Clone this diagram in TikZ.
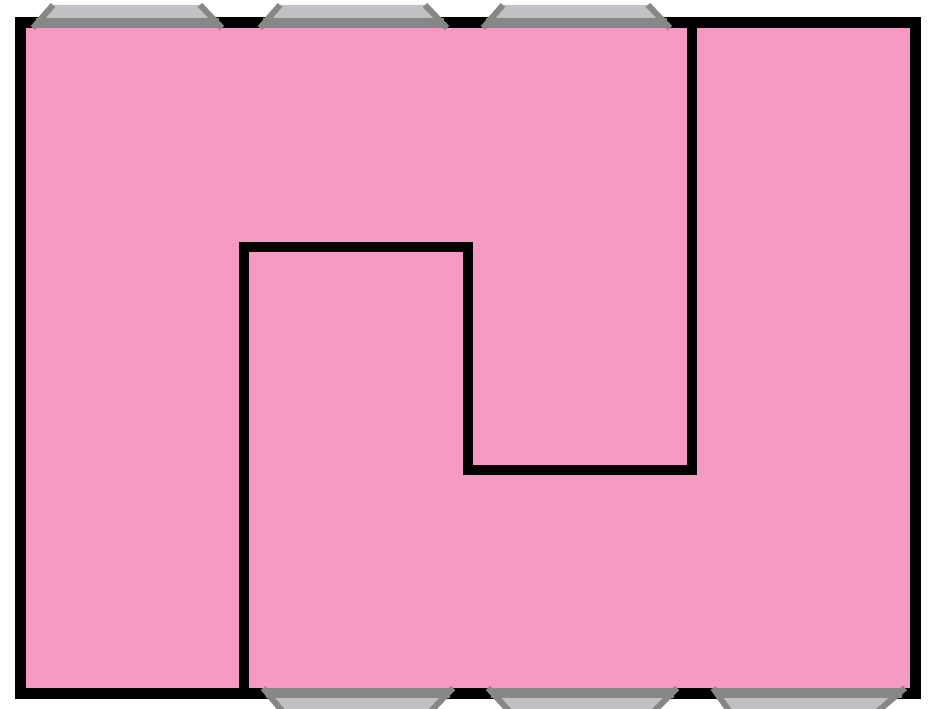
\documentclass[tikz,border=0pt]{standalone}
\definecolor{roompink}{HTML}{F49AC3}
\definecolor{winfill}{HTML}{C2C0C5}
\definecolor{winedge}{HTML}{878787}
\tikzset{
  wall/.style={draw=black, line width=10pt, line join=miter},
  winpane/.style={fill=winfill},
  winframe/.style={draw=winedge, line width=6pt},
  winsill/.style={draw=winedge, line width=10pt}
}
\begin{document}
\begin{tikzpicture}[x=1pt, y=-1pt]
\useasboundingbox (0,0) rectangle (929,709);
\draw[wall, line width=11pt, fill=roompink] (20,22.5) rectangle (915,693);
\draw[wall] (243.5,693) -- (243.5,246.5) -- (468,246.5) -- (468,469.5) -- (691.5,469.5) -- (691.5,22.5);
\fill[winpane] (33,28) -- (53,5) -- (200,5) -- (222,28) -- cycle;
\draw[winframe] (33,28) -- (53,5) (200,5) -- (222,28);
\draw[winsill] (36,23) -- (219,23);
\fill[winpane] (260,28) -- (280,5) -- (425,5) -- (447,28) -- cycle;
\draw[winframe] (260,28) -- (280,5) (425,5) -- (447,28);
\draw[winsill] (263,23) -- (444,23);
\fill[winpane] (483,28) -- (503,5) -- (648,5) -- (670,28) -- cycle;
\draw[winframe] (483,28) -- (503,5) (648,5) -- (670,28);
\draw[winsill] (486,23) -- (667,23);
\fill[winpane] (263,688) -- (283,712) -- (430,712) -- (453,688) -- cycle;
\draw[winframe] (263,688) -- (283,712) (430,712) -- (453,688);
\draw[winsill] (266,693) -- (450,693);
\fill[winpane] (488,688) -- (510,712) -- (653,712) -- (677,688) -- cycle;
\draw[winframe] (488,688) -- (510,712) (653,712) -- (677,688);
\draw[winsill] (491,693) -- (674,693);
\fill[winpane] (713,688) -- (730,712) -- (877,712) -- (905,688) -- cycle;
\draw[winframe] (713,688) -- (730,712) (877,712) -- (905,688);
\draw[winsill] (716,693) -- (902,693);
\end{tikzpicture}
\end{document}
